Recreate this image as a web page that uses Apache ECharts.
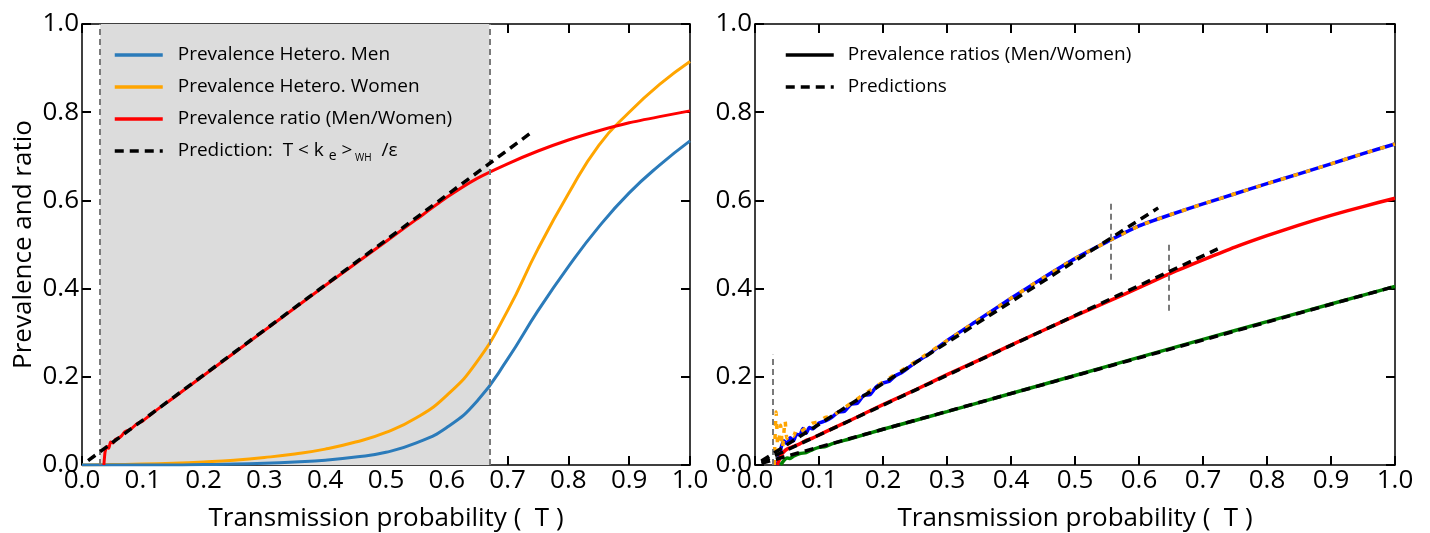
<!DOCTYPE html>
<html>
<head>
<meta charset="utf-8">
<script src="https://cdn.jsdelivr.net/npm/echarts@6/dist/echarts.min.js"></script>
<style>
  html, body { margin: 0; padding: 0; background: #fff; }
  #chart { width: 1430px; height: 533px; }
</style>
</head>
<body>
<div id="chart"></div>
<script>
// ---------- Left panel: heterosexual prevalence vs transmission probability ----------
const leftT      = [0, 0.05, 0.1, 0.15, 0.2, 0.25, 0.3, 0.35, 0.4, 0.45, 0.5, 0.55, 0.6, 0.65, 0.7, 0.75, 0.8, 0.85, 0.9, 0.95, 1.0];
const menLeft    = [0, 0, 0, 0, 0.001, 0.002, 0.004, 0.007, 0.011, 0.018, 0.029, 0.05, 0.085, 0.145, 0.24, 0.35, 0.45, 0.54, 0.617, 0.68, 0.735];
const womenLeft  = [0, 0.001, 0.002, 0.004, 0.007, 0.011, 0.017, 0.025, 0.036, 0.052, 0.074, 0.107, 0.158, 0.235, 0.35, 0.49, 0.615, 0.725, 0.8, 0.863, 0.915];

const ratioLeftT = [0.036, 0.038, 0.041, 0.044, 0.047, 0.051, 0.055, 0.06, 0.065, 0.07, 0.08, 0.09, 0.1, 0.12, 0.15, 0.2, 0.25, 0.3, 0.35, 0.4, 0.45, 0.5, 0.55, 0.6, 0.65, 0.7, 0.75, 0.8, 0.85, 0.9, 0.95, 1.0];
const ratioLeft  = [0, 0.03, 0.042, 0.038, 0.052, 0.05, 0.058, 0.061, 0.066, 0.075, 0.081, 0.093, 0.1, 0.122, 0.152, 0.203, 0.254, 0.305, 0.356, 0.407, 0.457, 0.507, 0.557, 0.607, 0.65, 0.683, 0.712, 0.737, 0.758, 0.776, 0.79, 0.803];

const predLeftT  = [0.01, 0.742];
const predLeftV  = [0.01, 0.757];

// Epidemic-threshold window (shaded) bounds
const shadeT = [0.03, 0.67];

// ---------- Right panel: prevalence ratios for several settings ----------
const upperT     = [0.035, 0.04, 0.045, 0.05, 0.055, 0.06, 0.065, 0.07, 0.075, 0.08, 0.085, 0.09, 0.1, 0.11, 0.12, 0.13, 0.14, 0.15, 0.16, 0.17, 0.18, 0.19, 0.2, 0.21, 0.22, 0.23, 0.25, 0.27, 0.3, 0.35, 0.4, 0.45, 0.5, 0.55, 0.6, 0.65, 0.7, 0.75, 0.8, 0.85, 0.9, 0.95, 1.0];
const upperBlue  = [0, 0.035, 0.055, 0.048, 0.062, 0.055, 0.07, 0.068, 0.083, 0.072, 0.085, 0.082, 0.095, 0.1, 0.108, 0.12, 0.122, 0.138, 0.14, 0.158, 0.16, 0.178, 0.186, 0.19, 0.203, 0.21, 0.232, 0.25, 0.282, 0.33, 0.378, 0.424, 0.468, 0.506, 0.542, 0.568, 0.592, 0.615, 0.638, 0.66, 0.683, 0.706, 0.728];

const upperOrangeT = [0.03, 0.033, 0.036, 0.04, 0.043, 0.047, 0.05, 0.055, 0.06, 0.065, 0.07, 0.08, 0.09, 0.1, 0.11, 0.12, 0.13, 0.15, 0.17, 0.2, 0.25, 0.3, 0.35, 0.4, 0.45, 0.5, 0.55, 0.6, 0.65, 0.7, 0.75, 0.8, 0.85, 0.9, 0.95, 1.0];
const upperOrange  = [0, 0.12, 0.03, 0.09, 0.04, 0.1, 0.06, 0.07, 0.065, 0.08, 0.075, 0.085, 0.095, 0.098, 0.108, 0.11, 0.12, 0.14, 0.16, 0.188, 0.234, 0.282, 0.33, 0.378, 0.424, 0.468, 0.506, 0.542, 0.568, 0.592, 0.615, 0.638, 0.66, 0.683, 0.706, 0.728];

const midT       = [0.035, 0.04, 0.045, 0.05, 0.06, 0.07, 0.08, 0.09, 0.1, 0.12, 0.15, 0.2, 0.25, 0.3, 0.35, 0.4, 0.45, 0.5, 0.55, 0.6, 0.65, 0.7, 0.75, 0.8, 0.85, 0.9, 0.95, 1.0];
const midRed     = [0, 0.02, 0.03, 0.036, 0.042, 0.048, 0.056, 0.061, 0.068, 0.082, 0.102, 0.137, 0.17, 0.205, 0.238, 0.272, 0.305, 0.338, 0.37, 0.402, 0.435, 0.465, 0.494, 0.52, 0.544, 0.566, 0.586, 0.605];

const lowT       = [0.04, 0.045, 0.05, 0.055, 0.06, 0.07, 0.08, 0.09, 0.1, 0.11, 0.12, 0.15, 0.2, 0.3, 0.4, 0.5, 0.6, 0.7, 0.8, 0.9, 1.0];
const lowGreen   = [0, 0.01, 0.016, 0.015, 0.02, 0.026, 0.028, 0.035, 0.04, 0.042, 0.048, 0.06, 0.081, 0.121, 0.162, 0.203, 0.244, 0.285, 0.325, 0.365, 0.405];

const predUpperT = [0.01, 0.63];
const predUpperV = [0.009, 0.583];
const predMidT   = [0.01, 0.723];
const predMidV   = [0.007, 0.49];
const predLowT   = [0.01, 1.0];
const predLowV   = [0.004, 0.405];

// Threshold markers in the right panel
const guideT  = [0.027, 0.556, 0.647];
const guideLo = [0, 0.42, 0.35];
const guideHi = [0.25, 0.6, 0.5];

// Tick settings
const xTickStep = 0.1;
const yTickStep = 0.2;

// ---------- helpers ----------
const FONT = 'Open Sans';
const zip = (xs, ys) => xs.map((x, i) => [x, ys[i]]);
const axisLine = { show: true, onZero: false, lineStyle: { color: '#000', width: 1.5 } };
const tick = { show: true, inside: true, length: 9, lineStyle: { color: '#000', width: 2 } };

function xAxes(g) {
  return [
    {
      type: 'value', gridIndex: g, position: 'bottom', min: 0, max: 1, interval: xTickStep,
      axisLine, axisTick: tick, splitLine: { show: false },
      axisLabel: { color: '#000', fontSize: 26, fontFamily: FONT, margin: 3, formatter: v => v.toFixed(1) },
      name: 'Transmission probability (  T )', nameLocation: 'middle', nameGap: 41,
      nameTextStyle: { color: '#000', fontSize: 26, fontFamily: FONT }
    },
    {
      type: 'value', gridIndex: g, position: 'top', min: 0, max: 1, interval: xTickStep,
      axisLine, axisTick: tick, splitLine: { show: false }, axisLabel: { show: false }
    }
  ];
}
function yAxes(g, name) {
  return [
    {
      type: 'value', gridIndex: g, position: 'left', min: 0, max: 1, interval: yTickStep,
      axisLine, axisTick: tick, splitLine: { show: false },
      axisLabel: { color: '#000', fontSize: 26, fontFamily: FONT, margin: 3, formatter: v => v.toFixed(1) },
      name: name, nameLocation: 'middle', nameGap: 45,
      nameTextStyle: { color: '#000', fontSize: 26, fontFamily: FONT }
    },
    {
      type: 'value', gridIndex: g, position: 'right', min: 0, max: 1, interval: yTickStep,
      axisLine, axisTick: tick, splitLine: { show: false }, axisLabel: { show: false }
    }
  ];
}

function line(name, data, color, width, xi, extra) {
  return Object.assign({
    type: 'line', name, data, xAxisIndex: xi, yAxisIndex: xi,
    showSymbol: false, symbol: 'none', smooth: 0.5,
    lineStyle: { color, width }, itemStyle: { color }, animation: false, z: 3
  }, extra || {});
}
const dash = (color, width, xi, name, data, pattern) =>
  line(name, data, color, width, xi, { smooth: false, lineStyle: { color, width, type: pattern || [9, 6] }, z: 5 });

const guideStyle = { color: '#7a7a7a', width: 2, type: [6, 4] };

// legend icons are plain line segments (no marker)
const legendCommon = {
  orient: 'vertical', itemWidth: 48, itemHeight: 14, itemGap: 8,
  itemStyle: { opacity: 0, borderWidth: 0 },
  lineStyle: { width: 3.5 }
};

const option = {
  backgroundColor: '#fff',
  animation: false,
  textStyle: { fontFamily: FONT },
  grid: [
    { left: 82, right: 740, top: 24, bottom: 68, outerBoundsMode: 'none', containLabel: false },
    { left: 755, right: 35, top: 24, bottom: 68, outerBoundsMode: 'none', containLabel: false }
  ],
  xAxis: [...xAxes(0), ...xAxes(1)],
  yAxis: [...yAxes(0, 'Prevalence and ratio'), ...yAxes(1, '')],
  legend: [
    Object.assign({}, legendCommon, {
      left: 108, top: 38,
      data: ['Prevalence Hetero. Men', 'Prevalence Hetero. Women', 'Prevalence ratio (Men/Women)', 'Prediction'],
      textStyle: {
        color: '#000', fontSize: 19, fontFamily: FONT, lineHeight: 24, padding: [0, 0, 0, 10],
        rich: {
          a: { fontSize: 19, fontFamily: FONT, color: '#000', lineHeight: 24 },
          s: { fontSize: 14, fontFamily: FONT, color: '#000', lineHeight: 8, verticalAlign: 'bottom' },
          w: { fontSize: 10, fontFamily: FONT, color: '#000', lineHeight: 6, verticalAlign: 'bottom' }
        }
      },
      formatter: n => n === 'Prediction'
        ? '{a|Prediction:  T < k }{s|e}{a| >}{w| WH}{a|  /ε}'
        : '{a|' + n + '}'
    }),
    Object.assign({}, legendCommon, {
      left: 779, top: 38,
      data: ['Prevalence ratios (Men/Women)', 'Predictions'],
      textStyle: { color: '#000', fontSize: 19, fontFamily: FONT, lineHeight: 24, padding: [0, 0, 0, 9] }
    })
  ],
  series: [
    // shaded window with its dashed bounds
    {
      type: 'line', name: 'window', data: [], xAxisIndex: 0, yAxisIndex: 0, z: 1, silent: true,
      markArea: { silent: true, itemStyle: { color: '#dcdcdc' }, data: [[{ xAxis: shadeT[0] }, { xAxis: shadeT[1] }]] },
      markLine: {
        silent: true, symbol: 'none', label: { show: false }, lineStyle: guideStyle,
        data: shadeT.map(t => ({ xAxis: t }))
      }
    },
    line('Prevalence Hetero. Women', zip(leftT, womenLeft), '#ffa500', 3, 0),
    line('Prevalence Hetero. Men', zip(leftT, menLeft), '#2b7bba', 3, 0),
    line('Prevalence ratio (Men/Women)', zip(ratioLeftT, ratioLeft), '#ff0000', 3, 0, { smooth: 0.2 }),
    dash('#000', 3.5, 0, 'Prediction', zip(predLeftT, predLeftV)),

    // right panel
    {
      type: 'line', name: 'guides', data: [], xAxisIndex: 2, yAxisIndex: 2, z: 2, silent: true,
      markLine: {
        silent: true, symbol: 'none', label: { show: false }, lineStyle: guideStyle,
        data: guideT.map((t, i) => [{ coord: [t, guideLo[i]] }, { coord: [t, guideHi[i]] }])
      }
    },
    line('Prevalence ratios (Men/Women)', [], '#000', 3, 2),
    line('upper', zip(upperT, upperBlue), '#0000ff', 3.5, 2, { smooth: 0.2 }),
    line('upper women', zip(upperOrangeT, upperOrange), '#ffa500', 3.5, 2, { smooth: 0.2, lineStyle: { color: '#ffa500', width: 3.5, type: [5, 8] }, z: 4 }),
    line('middle', zip(midT, midRed), '#ff0000', 3.5, 2, { smooth: 0.2 }),
    line('lower', zip(lowT, lowGreen), '#008000', 3.5, 2, { smooth: 0.2 }),
    dash('#000', 3.5, 2, 'Predictions', zip(predUpperT, predUpperV)),
    dash('#000', 3.5, 2, 'Predictions', zip(predMidT, predMidV)),
    dash('#000', 3.5, 2, 'Predictions', zip(predLowT, predLowV))
  ]
};

const chart = echarts.init(document.getElementById('chart'), null, { renderer: 'canvas' });
chart.setOption(option);
</script>
</body>
</html>
